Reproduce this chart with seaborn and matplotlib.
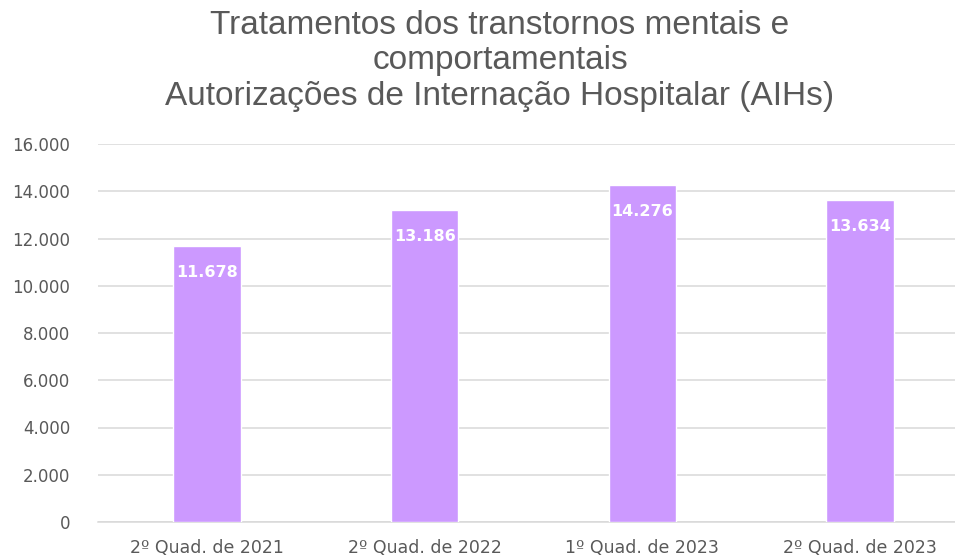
import matplotlib
matplotlib.use("Agg")
import matplotlib.pyplot as plt
import matplotlib.ticker as mticker
import pandas as pd
import seaborn as sns

# Chart data
categories = ["2º Quad. de 2021", "2º Quad. de 2022", "1º Quad. de 2023", "2º Quad. de 2023"]
aih_values = [11678, 13186, 14276, 13634]
y_ticks = [0, 2000, 4000, 6000, 8000, 10000, 12000, 14000, 16000]
title_lines = [
    "Tratamentos dos transtornos mentais e",
    "comportamentais",
    "Autorizações de Internação Hospitalar (AIHs)",
]


def fmt_br(v):
    return f"{int(v):,}".replace(",", ".")


df = pd.DataFrame({"periodo": categories, "aih": aih_values})

sns.set_style("white")
plt.rcParams["font.family"] = ["DejaVu Sans"]

fig = plt.figure(figsize=(9.55, 5.58), dpi=100)
ax = fig.add_axes([98 / 955, 36 / 558, 871 / 955, 378 / 558])

sns.barplot(data=df, x="periodo", y="aih", color="#CC99FF", saturation=1,
            width=0.31, ax=ax, zorder=3)

ax.set_ylim(0, 16000)
ax.set_yticks(y_ticks)
ax.yaxis.set_major_formatter(mticker.FuncFormatter(lambda v, p: fmt_br(v)))
ax.grid(axis="y", color="#d9d9d9", linewidth=1.1, zorder=0)
ax.set_axisbelow(True)
for side in ["top", "right", "left"]:
    ax.spines[side].set_visible(False)
ax.spines["bottom"].set_color("#d9d9d9")
ax.spines["bottom"].set_linewidth(1.1)
ax.tick_params(axis="both", length=0, colors="#595959")
ax.tick_params(axis="y", labelsize=12, pad=20)
ax.tick_params(axis="x", labelsize=12.5, pad=12)
ax.set_xlabel("")
ax.set_ylabel("")

# value labels inside bars
for i, v in enumerate(aih_values):
    ax.annotate(fmt_br(v), xy=(i, v), xytext=(0, -19), textcoords="offset points",
                ha="center", va="center", color="white", fontsize=11.5,
                fontweight="bold")

fig.text(500 / 955, 1 - 61 / 558, "\n".join(title_lines), ha="center", va="center",
         fontsize=24, color="#595959", family="Liberation Sans", linespacing=1.17)

fig.savefig("out.png", dpi=100, facecolor="white")
